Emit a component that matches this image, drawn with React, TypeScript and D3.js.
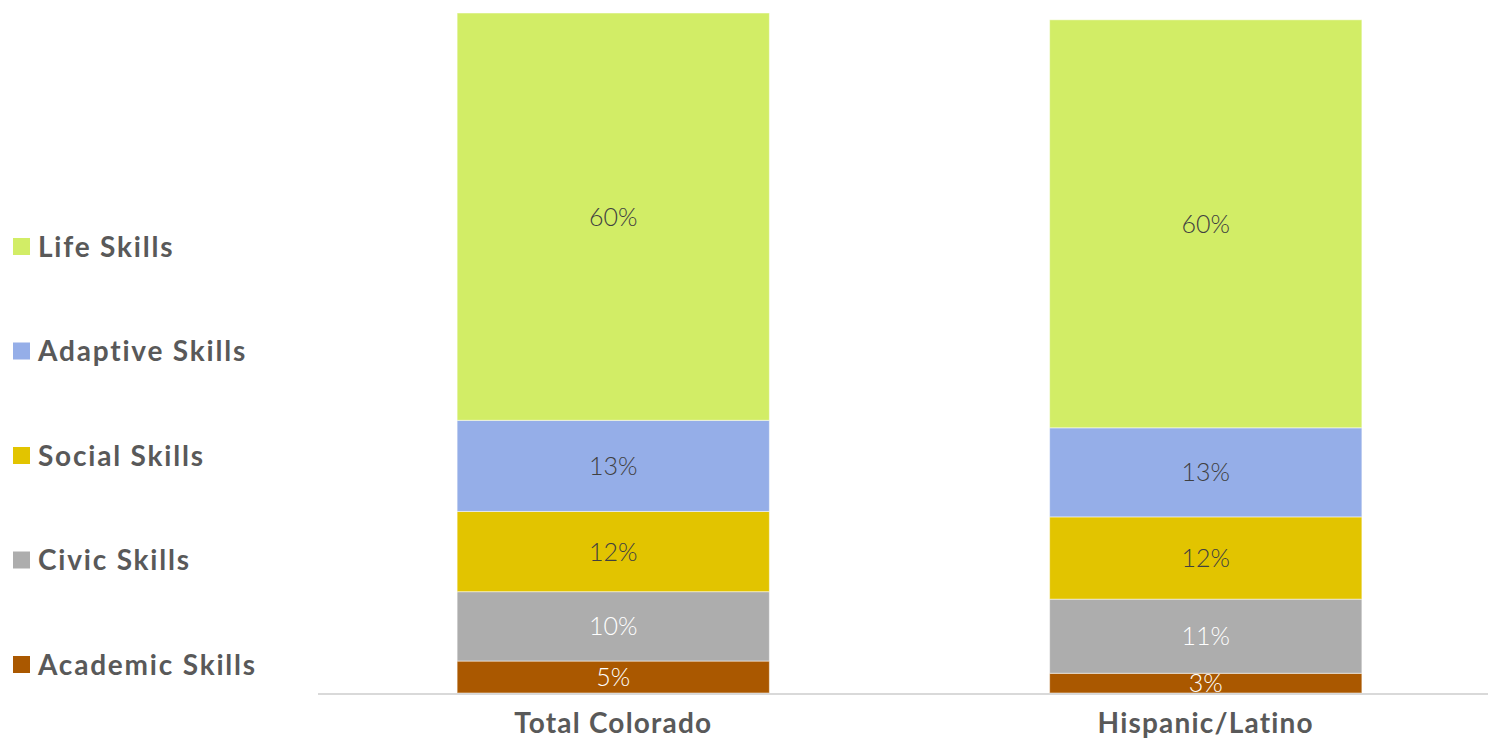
import React from "react";
import * as d3 from "d3";

const categories = ["Total Colorado", "Hispanic/Latino"];
const seriesNames = ["Academic Skills", "Civic Skills", "Social Skills", "Adaptive Skills", "Life Skills"];
const seriesColors = ["#aa5800", "#adadad", "#e2c400", "#95aee8", "#d2ed66"];
const labelColors = ["#ffffff", "#ffffff", "#404040", "#404040", "#404040"];
const academic = [4.7, 2.9];
const civic = [10.2, 10.9];
const social = [11.8, 12.1];
const adaptive = [13.4, 13.1];
const life = [59.9, 60.0];

const W = 1488;
const H = 738;
const FONT = "Lato, 'Open Sans', sans-serif";

export default function App() {
  const values = [academic, civic, social, adaptive, life];
  const rows = categories.map((c, i) => {
    const r: any = { cat: c };
    seriesNames.forEach((s, k) => (r[s] = values[k][i]));
    return r;
  });
  const stacked = d3.stack<any>().keys(seriesNames)(rows);

  const x = d3.scaleBand<string>().domain(categories).range([317, 1502]).paddingInner(0.473).paddingOuter(0.2365);
  const y = d3.scaleLinear().domain([0, 100]).range([693, 13]);
  const fmt = (v: number) => d3.format(".0f")(v) + "%";

  return (
    <svg width={W} height={H} style={{ position: "absolute", left: 0, top: 0, background: "#fff" }}>
      {stacked.map((layer, k) => (
        <g key={layer.key}>
          {layer.map((d, i) => {
            const x0 = x(categories[i])!;
            const y0 = y(d[1]);
            const h = y(d[0]) - y(d[1]);
            return (
              <g key={i}>
                <rect x={x0} y={y0} width={x.bandwidth()} height={h} fill={seriesColors[k]} stroke="#ffffff" strokeOpacity={0.5} strokeWidth={1} />
                <text
                  x={x0 + x.bandwidth() / 2}
                  y={y0 + h / 2}
                  dy="0.36em"
                  textAnchor="middle"
                  fontFamily={FONT}
                  fontWeight={300}
                  fontSize={25}
                  fill={labelColors[k]}
                >
                  {fmt(d[1] - d[0])}
                </text>
              </g>
            );
          })}
        </g>
      ))}
      <line x1={318} x2={1488} y1={694} y2={694} stroke="#d9d9d9" strokeWidth={2} />
      {categories.map((c) => (
        <text
          key={c}
          x={x(c)! + x.bandwidth() / 2}
          y={733}
          textAnchor="middle"
          fontFamily={FONT}
          fontWeight="bold"
          fontSize={28}
          letterSpacing={1.2}
          fill="#595959"
        >
          {c}
        </text>
      ))}
      {seriesNames
        .slice()
        .reverse()
        .map((s, j) => {
          const k = seriesNames.length - 1 - j;
          const cy = 246.5 + j * 104.5;
          return (
            <g key={s}>
              <rect x={13} y={cy - 8.5} width={17} height={17} fill={seriesColors[k]} />
              <text x={38} y={cy} dy="0.36em" fontFamily={FONT} fontWeight="bold" fontSize={28} letterSpacing={1.8} fill="#595959">
                {s}
              </text>
            </g>
          );
        })}
    </svg>
  );
}
